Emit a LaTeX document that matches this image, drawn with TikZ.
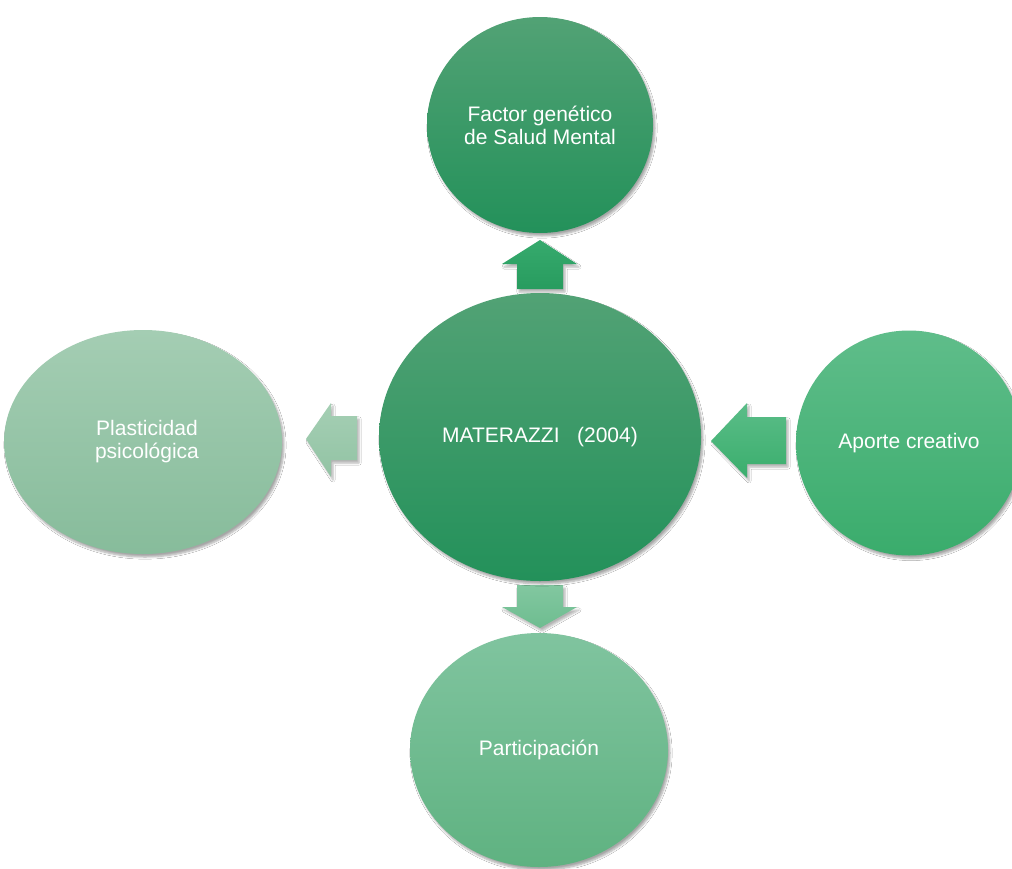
\documentclass[tikz,border=0pt]{standalone}
\usepackage{fontspec}
\setmainfont{Liberation Sans}
\usetikzlibrary{shapes.geometric,shadows.blur}
\definecolor{cTopA}{HTML}{52A275}
\definecolor{cBotA}{HTML}{23915A}
\definecolor{rTop}{HTML}{5FBD8A}
\definecolor{rBot}{HTML}{3AAC6C}
\definecolor{bTop}{HTML}{80C49F}
\definecolor{bBot}{HTML}{5FB281}
\definecolor{lTop}{HTML}{A4CDB3}
\definecolor{lBot}{HTML}{87BC9B}
\definecolor{uaTop}{HTML}{36AA6D}
\definecolor{uaBot}{HTML}{289C5F}
\definecolor{daTop}{HTML}{82C7A0}
\definecolor{daBot}{HTML}{6EBD90}
\definecolor{laTop}{HTML}{A5CFB4}
\definecolor{laBot}{HTML}{92C3A4}
\definecolor{raTop}{HTML}{5BBD88}
\definecolor{raBot}{HTML}{3AAE6D}
\tikzset{
  bubble/.style={ellipse, inner sep=0pt, text=white, align=center,
    font=\fontsize{21}{23}\selectfont,
    blur shadow={shadow xshift=2pt, shadow yshift=-3pt, shadow blur steps=6, shadow opacity=35}},
  blockarrow/.style={blur shadow={shadow xshift=2pt, shadow yshift=-3pt, shadow blur steps=5, shadow opacity=30}}
}
\begin{document}
\begin{tikzpicture}[x=1pt,y=-1pt]
\useasboundingbox (0,0) rectangle (1012,868);
\fill[white] (0,0) rectangle (1012,868);
% arrows
\path[blockarrow, top color=uaTop, bottom color=uaBot]
  (540,240) -- (577,264) -- (563,264) -- (563,289) -- (517,289) -- (517,264) -- (502,264) -- cycle;
\path[blockarrow, top color=daTop, bottom color=daBot]
  (517,585) -- (563,585) -- (563,607) -- (577,607) -- (540,628) -- (502,607) -- (517,607) -- cycle;
\path[blockarrow, top color=laTop, bottom color=laBot]
  (306,439) -- (331,403) -- (331,416) -- (357,416) -- (357,460) -- (331,460) -- (331,477) -- cycle;
\path[blockarrow, top color=raTop, bottom color=raBot]
  (711,441) -- (747,403) -- (747,417) -- (786,417) -- (786,464) -- (747,464) -- (747,478) -- cycle;
% bubbles
\node[bubble, minimum width=278pt, minimum height=224pt, top color=lTop, bottom color=lBot] (left) at (143,442) {};
\node[text=white, align=center, font=\fontsize{21}{23}\selectfont] (lefttxt) at (147,442) {Plasticidad\\psicológica};
\node[bubble, minimum width=226pt, minimum height=216pt, top color=cTopA, bottom color=cBotA] (top) at (540,125) {Factor genético\\de Salud Mental};
\node[bubble, minimum width=226pt, minimum height=225pt, top color=rTop, bottom color=rBot] (right) at (909,443) {Aporte creativo};
\node[bubble, minimum width=258pt, minimum height=234pt, top color=bTop, bottom color=bBot] (bottom) at (539,750) {Participación};
\node[bubble, minimum width=322pt, minimum height=288pt, top color=cTopA, bottom color=cBotA] (center) at (540,437) {MATERAZZI\ \ \ (2004)};
\end{tikzpicture}
\end{document}
